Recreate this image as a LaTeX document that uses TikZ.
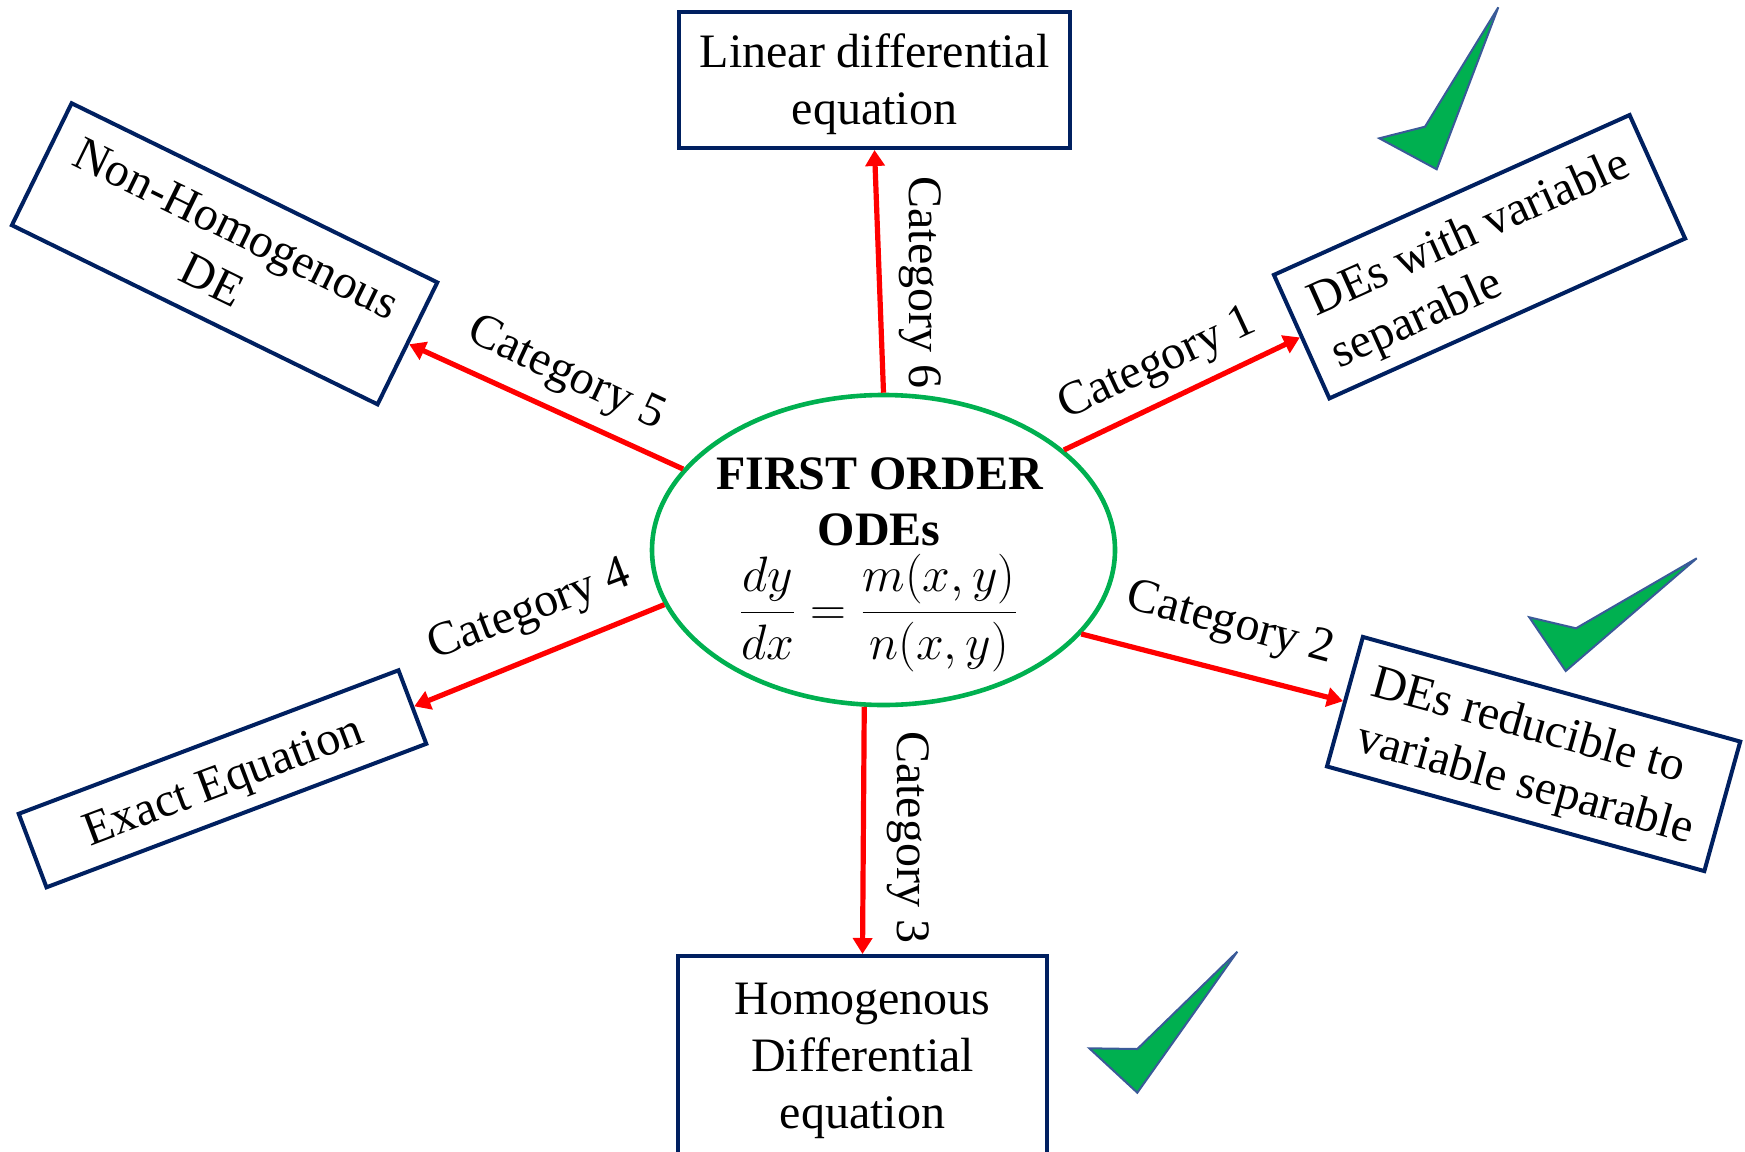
\documentclass[tikz,border=0pt]{standalone}
\usepackage{fontspec}
\setmainfont{Liberation Serif}
\usetikzlibrary{arrows.meta,shapes.geometric}
\definecolor{boxblue}{HTML}{002060}
\definecolor{okgreen}{HTML}{00B050}
\definecolor{tickedge}{HTML}{3A5A98}
\definecolor{arrred}{HTML}{FF0000}
\newcommand\pstr{\rule[-0.216em]{0pt}{1.107em}}
\begin{document}
\begin{tikzpicture}[x=0.5pt,y=-0.5pt,
  txt/.style={font=\fontsize{24}{28.5}\selectfont, inner sep=0pt},
  box/.style={txt, draw=boxblue, line width=2pt},
  cat/.style={txt},
  arr/.style={draw=arrred, line width=2.6pt, -{Triangle[length=8pt,width=9.5pt]}},
  tick/.style={fill=okgreen, draw=tickedge, line width=1pt, line join=miter}
]
\useasboundingbox (0,0) rectangle (1745,1151);

% boxes
\node[box, minimum width=195.5pt, minimum height=68pt, align=center] (lin) at (874.5,80) {\pstr Linear differential\\equation\pstr};
\node[box, minimum width=184.5pt, minimum height=99pt, align=center] (hom) at (862.5,1055) {\pstr Homogenous\\Differential\\equation\pstr};
\node[box, rotate=24.2, minimum width=195pt, minimum height=67.7pt, align=left] (sep) at (1479.5,256.7) {\pstr DEs with variable\\separable\pstr};
\node[box, rotate=-15.5, minimum width=195.8pt, minimum height=67.2pt, align=left] (red) at (1533.6,754) {\pstr DEs reducible to\\variable separable\pstr};
\node[box, rotate=-26.1, minimum width=203.6pt, minimum height=67.9pt, align=center] (nh) at (224.6,253.8) {\pstr Non-Homogenous\\DE\pstr};
\node[box, rotate=20.7, minimum width=203pt, minimum height=39.3pt] (ex) at (222.5,778.8) {\pstr Exact Equation};

% central ellipse
\node[ellipse, draw=okgreen, line width=2.3pt, minimum width=231.5pt, minimum height=155pt, inner sep=0pt] (ode) at (883.5,550) {};
\node[txt, font=\fontsize{24}{28.5}\selectfont\bfseries, anchor=base] (t1) at (879.5,489) {FIRST ORDER};
\node[txt, font=\fontsize{24}{28.5}\selectfont\bfseries, anchor=base] (t2) at (879,545) {ODEs};
\node[txt, anchor=base] (eq) at (878.5,625) {$\displaystyle \frac{dy}{dx}=\frac{m(x,y)}{n(x,y)}$};

% connectors
\draw[arr] (ode.29) -- (sep.west);
\draw[arr] (ode.337.5) -- (red.west);
\draw[arr] (ode.263.2) -- (hom.north);
\draw[arr] (ode.194.9) -- (ex.east);
\draw[arr] (ode.158.2) -- (nh.east);
\draw[arr] (ode.90.5) -- (lin.south);

% labels
\node[cat, rotate=25] (l1) at (1158,365) {Category 1};
\node[cat, rotate=-15] (l2) at (1230,625) {Category 2};
\node[cat, rotate=-90] (l3) at (908.5,837) {Category 3};
\node[cat, rotate=21] (l4) at (530,612) {Category 4};
\node[cat, rotate=-25] (l5) at (566,375) {Category 5};
\node[cat, rotate=-90] (l6) at (920.5,282.5) {Category 6};

% check marks
\draw[tick] (1498.3,7.3) -- (1425,126.7) -- (1379.3,138.3) -- (1436.7,169.3) -- cycle;
\draw[tick] (1696.7,558.3) -- (1576,628.3) -- (1529.3,617.3) -- (1565.7,671) -- cycle;
\draw[tick] (1237.3,951.7) -- (1137.3,1049) -- (1089.3,1048.3) -- (1137.3,1092.7) -- cycle;
\end{tikzpicture}
\end{document}
